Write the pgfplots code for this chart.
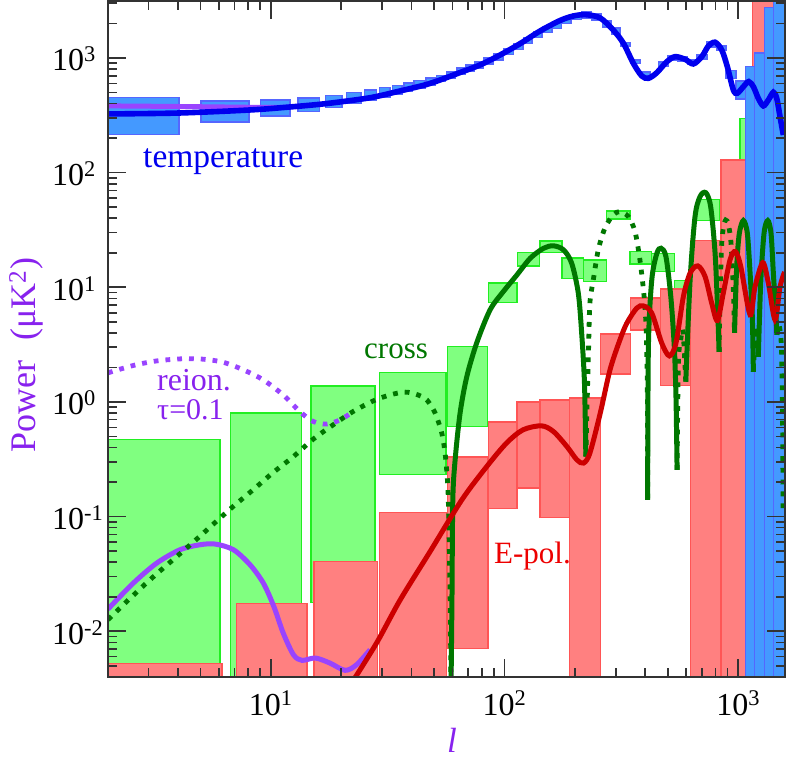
\documentclass[border=0pt]{standalone}
\usepackage{pgfplots}
\pgfplotsset{compat=1.18}
\usepackage{fontspec}
\setmainfont{Liberation Serif}

\definecolor{axisgrey}{HTML}{333333}
\definecolor{bluefill}{HTML}{4499FF}
\definecolor{blueedge}{HTML}{5566FF}
\definecolor{blueline}{HTML}{0000EE}
\definecolor{redfill}{HTML}{FF8080}
\definecolor{rededge}{HTML}{FF5555}
\definecolor{redline}{HTML}{CC0000}
\definecolor{greenfill}{HTML}{80FF80}
\definecolor{greenedge}{HTML}{22EE22}
\definecolor{greenline}{HTML}{007700}
\definecolor{purpleline}{HTML}{9944FF}
\definecolor{purpletext}{HTML}{8822EE}

\tikzset{
  gbox/.style={fill=greenfill,draw=greenedge,line width=1.4pt},
  rbox/.style={fill=redfill,draw=rededge,line width=1.4pt},
  bbox/.style={fill=bluefill,draw=blueedge,line width=1.4pt},
  solidcurve/.style={line width=5pt,smooth,tension=0.5,mark=none},
  dotcurve/.style={line width=4.8pt,smooth,tension=0.5,mark=none,dash pattern=on 4.8pt off 7pt},
}
% x1 x2 ylow yhigh
\newcommand{\bin}[5]{\addplot[#1] coordinates {(#2,#4)(#3,#4)(#3,#5)(#2,#5)} --cycle;}

\begin{document}
\begin{tikzpicture}
\path[use as bounding box] (-108pt,-92pt) rectangle (688pt,677pt);
\begin{axis}[
    scale only axis, width=677pt, height=676pt,
    xmode=log, ymode=log,
    xmin=2.01, xmax=1587,
    ymin=0.00399, ymax=3140,
    axis on top,
    axis line style={draw=axisgrey,line width=2pt},
    tick align=inside, tick pos=both,
    major tick length=18pt, minor tick length=9pt,
    every tick/.style={draw=axisgrey,line width=1.6pt},
    minor tick style={draw=axisgrey,line width=1.6pt},
    xtick={10,100,1000},
    xticklabels={10\textsuperscript{1},10\textsuperscript{2},10\textsuperscript{3}},
    minor xtick={3,4,5,6,7,8,9,20,30,40,50,60,70,80,90,200,300,400,500,600,700,800,900},
    ytick={0.01,0.1,1,10,100,1000},
    yticklabels={10\textsuperscript{-2},10\textsuperscript{-1},10\textsuperscript{0},10\textsuperscript{1},10\textsuperscript{2},10\textsuperscript{3}},
    minor ytick={0.005,0.006,0.007,0.008,0.009,0.02,0.03,0.04,0.05,0.06,0.07,0.08,0.09,0.2,0.3,0.4,0.5,0.6,0.7,0.8,0.9,2,3,4,5,6,7,8,9,20,30,40,50,60,70,80,90,200,300,400,500,600,700,800,900,2000,3000},
    tick label style={font=\fontsize{32}{36}\selectfont},
    yticklabel style={anchor=base west,inner sep=0pt,xshift=-56pt,yshift=-13pt},
    xticklabel style={anchor=base,inner sep=0pt,yshift=-38pt},
    xlabel={\textit{l}},
    ylabel={Power\hspace{0.55em}(μK\textsuperscript{2})},
    xlabel style={at={(axis description cs:0.508,-0.1124)},anchor=base,font=\fontsize{35}{38}\selectfont,text=purpletext},
    ylabel style={at={(axis description cs:-0.1078,0.4763)},anchor=base,font=\fontsize{36}{38}\selectfont,text=purpletext},
]

% cross boxes
\bin{gbox}{2.01}{6.07}{0.001}{0.468}
\bin{gbox}{6.74}{13.57}{0.001}{0.799}
\bin{gbox}{14.84}{27.9}{0.01784}{1.382}
\bin{gbox}{29.2}{56.2}{0.2315}{1.805}
\bin{gbox}{57.0}{84.5}{0.6106}{3.04}
\bin{gbox}{85.3}{113}{7.35}{10.86}
\bin{gbox}{114}{141}{15.37}{20.07}
\bin{gbox}{142}{176}{20.07}{25.4}
\bin{gbox}{176}{218}{12.0}{17.94}
\bin{gbox}{218}{274}{11.2}{17.23}
\bin{gbox}{274}{345}{39.5}{46.4}
\bin{gbox}{344}{427}{15.9}{20.5}
\bin{gbox}{427}{533}{13.7}{19.8}
\bin{gbox}{533}{661}{8.59}{11.4}
\bin{gbox}{665}{831}{38.2}{58.6}
\bin{gbox}{1019}{1369}{57.8}{298}

% E-pol boxes
\bin{rbox}{2.01}{6.17}{0.001}{0.00521}
\bin{rbox}{7.13}{14.3}{0.001}{0.01738}
\bin{rbox}{15.3}{28.7}{0.001}{0.0406}
\bin{rbox}{29.1}{56.5}{0.001}{0.108}
\bin{rbox}{57.0}{85.1}{0.00704}{0.330}
\bin{rbox}{85.3}{113}{0.117}{0.667}
\bin{rbox}{113}{141}{0.1772}{0.996}
\bin{rbox}{142}{190}{0.0982}{1.037}
\bin{rbox}{190}{258}{0.001}{1.08}
\bin{rbox}{258}{347}{1.748}{3.92}
\bin{rbox}{347}{466}{4.25}{8.04}
\bin{rbox}{466}{627}{1.39}{9.69}
\bin{rbox}{627}{845}{0.001}{25.7}
\bin{rbox}{845}{1076}{0.001}{129}
\bin{rbox}{1150}{1420}{0.001}{10000}

% temperature boxes
\bin{bbox}{2.01}{4.04}{216}{451}
\bin{bbox}{5.03}{8.07}{277}{422}
\bin{bbox}{9.03}{12.1}{312}{430}
\bin{bbox}{13.05}{16.2}{343}{448}
\bin{bbox}{17.1}{20.2}{372}{473}
\bin{bbox}{21.1}{24.3}{400}{498}
\bin{bbox}{25.2}{28.4}{428}{526}
\bin{bbox}{29.1}{32.4}{454}{551}
\bin{bbox}{33.1}{36.4}{483}{578}
\bin{bbox}{37.2}{40.5}{513}{605}
\bin{bbox}{41}{45.7}{540}{639}
\bin{bbox}{46.2}{50.5}{578}{669}
\bin{bbox}{51.3}{55.7}{627}{707}
\bin{bbox}{56.6}{61.5}{669}{755}
\bin{bbox}{62.7}{68.2}{725}{818}
\bin{bbox}{68.5}{74.1}{770}{869}
\bin{bbox}{74.5}{81.0}{818}{923}
\bin{bbox}{81.8}{89.4}{887}{1000}
\bin{bbox}{90.3}{98.6}{961}{1084}
\bin{bbox}{99.6}{109}{1077}{1215}
\bin{bbox}{110}{120}{1191}{1343}
\bin{bbox}{121}{131}{1333}{1503}
\bin{bbox}{133}{145}{1503}{1696}
\bin{bbox}{146}{160}{1662}{1875}
\bin{bbox}{161}{175}{1815}{2048}
\bin{bbox}{176}{193}{1991}{2245}
\bin{bbox}{195}{213}{2166}{2443}
\bin{bbox}{215}{235}{2232}{2518}
\bin{bbox}{237}{259}{2144}{2419}
\bin{bbox}{262}{286}{1863}{2102}
\bin{bbox}{289}{312}{1619}{1826}
\bin{bbox}{314}{345}{1272}{1365}
\bin{bbox}{346}{380}{895}{961}
\bin{bbox}{384}{420}{697}{755}
\bin{bbox}{456}{501}{852}{923}
\bin{bbox}{501}{548}{961}{1041}
\bin{bbox}{553}{605}{942}{1020}
\bin{bbox}{608}{661}{887}{961}
\bin{bbox}{667}{736}{980}{1062}
\bin{bbox}{736}{812}{1247}{1379}
\bin{bbox}{812}{888}{1174}{1272}
\bin{bbox}{888}{980}{665}{775}
\bin{bbox}{980}{1074}{437}{630}
\bin{bbox}{1074}{1178}{0.001}{840}
\bin{bbox}{1178}{1295}{0.001}{1106}
\bin{bbox}{1295}{1420}{0.001}{2767}
\bin{bbox}{1420}{1700}{0.001}{10000}

% reionisation models
\addplot[solidcurve,draw=purpleline] coordinates {
(2.01,382)(3.71,378)(6.07,374)(9.93,370)(12.1,372)};
\addplot[dotcurve,draw=purpleline] coordinates {
(2.01,1.794)(2.58,2.08)(3.25,2.28)(4.21,2.38)(5.13,2.36)(6.25,2.22)(7.61,1.91)(9.27,1.56)
(11.3,1.15)(13.3,0.825)(15.2,0.675)(17.4,0.641)(19.8,0.698)(22.3,0.812)};
\addplot[solidcurve,draw=purpleline] coordinates {
(2.01,0.0156)(2.58,0.0263)(3.25,0.0393)(4.09,0.0514)(4.98,0.0568)(5.78,0.0576)(6.92,0.0514)
(8.15,0.0380)(9.29,0.0263)(10.3,0.01646)(11.3,0.00965)(12.5,0.00624)(13.6,0.00557)(15.5,0.00584)
(17.9,0.00528)(20.8,0.00456)(23.3,0.00511)(26.6,0.0069)};

% cross spectrum, dotted where negative
\addplot[dotcurve,draw=greenline] coordinates {
(2.01,0.0126)(2.42,0.0182)(3.04,0.0281)(3.96,0.0449)(4.82,0.0637)(5.78,0.0889)(6.90,0.1225)
(8.40,0.1713)(10.2,0.241)(12.5,0.334)(15.2,0.474)(18.5,0.632)(22.5,0.825)(28.8,1.065)
(36.9,1.218)(42.7,1.15)(46.5,1.043)(50.5,0.799)(53.9,0.535)(55.7,0.358)(57.0,0.2094)
(57.5,0.140)(58.2,0.0420)(58.7,0.0126)(59.0,0.00378)};
\addplot[solidcurve,draw=greenline] coordinates {
(59.1,0.0038)(59.6,0.0188)(60.1,0.140)(61.5,0.313)(64.6,0.804)(69.0,1.665)(76.1,3.28)(86.8,6.36)
(98.9,9.18)(113,12.8)(129,17.94)(147,21.9)(162,23.0)(179,21.2)(194,16.2)(207,8.89)(214,3.98)
(220,1.46)(223,0.334)};
\addplot[dotcurve,draw=greenline] coordinates {
(223,0.334)(226,1.043)(229,2.85)(232,7.27)(240,11.6)(252,21.2)(269,32.8)(292,42.8)(312,45.7)
(339,41.4)(362,30.6)(380,17.3)(396,8.30)(404,4.25)(409,1.115)(410,0.140)};
\addplot[solidcurve,draw=greenline] coordinates {
(410,0.140)(413,3.04)(427,11.6)(449,19.8)(468,21.9)(491,18.5)(515,8.30)(533,3.04)(542,1.115)(548,0.256)};
\addplot[dotcurve,draw=greenline] coordinates {
(548,0.256)(555,2.18)(568,3.48)(581,4.17)(597,1.50)};
\addplot[solidcurve,draw=greenline] coordinates {
(597,1.50)(623,11.6)(654,41.4)(687,61.8)(727,66.9)(763,50.5)(797,19.8)(818,5.98)(829,2.73)};
\addplot[dotcurve,draw=greenline] coordinates {
(829,2.73)(837,8.30)(851,24.4)(873,36.2)(897,37.9)(930,25.9)(954,9.49)(965,4.0)};
\addplot[solidcurve,draw=greenline] coordinates {
(965,4.0)(986,15.2)(1012,29.6)(1053,38.2)(1095,29.6)(1125,13.3)(1150,5.55)(1162,1.83)};
\addplot[dotcurve,draw=greenline] coordinates {
(1162,1.83)(1181,3.85)(1199,4.43)(1220,2.47)};
\addplot[solidcurve,draw=greenline] coordinates {
(1220,2.47)(1249,10.9)(1291,29.6)(1339,38.2)(1383,29.6)(1415,13.3)(1453,5.55)(1464,3.85)};
\addplot[dotcurve,draw=greenline] coordinates {
(1467,3.85)(1496,4.70)(1531,3.15)(1544,1.28)(1553,0.382)(1557,0.1037)};

% E-pol model
\addplot[solidcurve,draw=redline] coordinates {
(22.5,0.0037)(28.4,0.00794)(35.8,0.0188)(48.0,0.0494)(65.7,0.140)(84.0,0.2735)(102,0.4375)
(120,0.571)(144,0.619)(162,0.552)(185,0.4086)(204,0.313)(218,0.293)(232,0.358)(257,0.799)
(283,1.91)(312,3.48)(334,4.87)(368,6.57)(393,6.88)(427,5.95)(471,3.26)(508,2.52)(542,3.26)
(583,8.30)(623,13.3)(672,15.37)(722,12.4)(771,7.27)(815,5.13)(864,8.89)(923,17.3)(973,20.5)
(1026,15.2)(1125,5.75)(1181,10.1)(1275,16.4)(1347,10.86)(1439,5.20)(1511,10.1)(1580,13.6)};

% temperature model
\addplot[solidcurve,draw=blueline,line width=5.6pt] coordinates {
(2.01,325)(4.01,331)(8.15,352)(12.1,374)(16.3,395)(20.2,416)(27.1,453)(35.8,516)(45.7,582)
(53.0,643)(64.6,747)(78.6,869)(95.8,1062)(117,1338)(142,1719)(173,2123)(197,2323)(223,2385)
(257,2232)(292,1754)(323,1343)(356,899)(387,697)(413,665)(449,745)(495,928)(537,1026)(593,974)
(643,887)(699,1026)(746,1272)(797,1371)(851,1174)(899,840)(954,526)(992,493)(1053,562)(1110,622)
(1162,562)(1220,445)(1282,382)(1347,430)(1415,502)(1463,445)(1511,308)(1561,213)};

\node[anchor=base west,inner sep=0pt,font=\fontsize{33.5}{36}\selectfont,text=blueline] at (rel axis cs:0.0517,0.7530) {temperature};
\node[anchor=base west,inner sep=0pt,font=\fontsize{32}{34}\selectfont,text=purpletext] at (rel axis cs:0.0724,0.4231) {reion.};
\node[anchor=base west,inner sep=0pt,font=\fontsize{30}{34}\selectfont,text=purpletext] at (rel axis cs:0.0724,0.3802) {τ=0.1};
\node[anchor=base west,inner sep=0pt,font=\fontsize{31}{34}\selectfont,text=greenline] at (rel axis cs:0.3781,0.4719) {cross};
\node[anchor=base west,inner sep=0pt,font=\fontsize{31}{34}\selectfont,text=red!93!black] at (rel axis cs:0.5702,0.1686) {E-pol.};
\end{axis}
\end{tikzpicture}
\end{document}
